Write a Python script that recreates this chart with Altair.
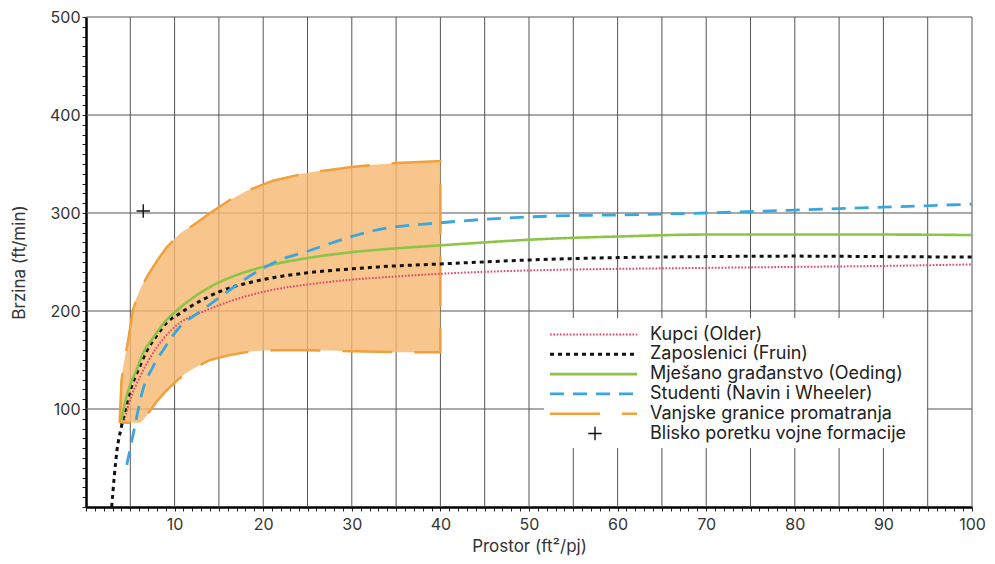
import altair as alt
import pandas as pd

# ---------------- data ----------------
# Kupci (Older)
older_x = [4.3, 5.0, 6.1, 8.0, 10.6, 12.9, 16.6, 21.9, 25, 30, 33, 40, 53, 60, 70, 80, 90, 100]
older_y = [88, 110, 133, 163, 188, 198, 211, 223, 227, 232, 234, 238, 242, 243, 244, 245, 246, 247.5]

# Zaposlenici (Fruin)
fruin_x = [2.9, 3.5, 4.0, 5.0, 6.0, 6.9, 8.0, 9.1, 10.5, 11.7, 13.5, 15.4, 18, 21.1, 25, 30, 33, 40,
           53, 60, 70, 80, 90, 100]
fruin_y = [0, 58, 82, 119, 142, 160, 175, 188, 197, 204, 213, 221, 228, 234, 239, 243, 245, 248,
           253, 254.5, 255.5, 256, 255.5, 255]

# Mješano građanstvo (Oeding)
oeding_x = [4.0, 4.5, 5.0, 5.7, 6.5, 7.6, 9.0, 10.3, 12, 14.3, 16.5, 18.8, 21.9, 25, 30, 33, 40,
            53, 60, 70, 80, 90, 100]
oeding_y = [88, 110, 125, 140, 158, 173, 190, 201, 213, 226, 235, 242, 249, 254, 260, 262.5, 267,
            274, 276, 278, 278, 278, 277.5]

# Studenti (Navin i Wheeler)
navin_x = [4.6, 5.0, 5.5, 6.4, 7.5, 8.7, 10.6, 12.5, 15.1, 18.9, 21.9, 25, 30, 33, 40, 53, 60, 70,
           80, 90, 100]
navin_y = [43, 60, 82, 119, 142, 160, 184, 197, 214, 238, 252, 261, 276, 283, 290, 297, 298, 300,
           303, 306, 309]

# Vanjske granice promatranja (observed envelope)
env_x = [3.8, 4.0, 4.3, 4.7, 5.3, 6.0, 6.9, 8.0, 9.1, 10.5, 12.5, 14.0, 16.2, 18.0, 21.1, 25, 30, 35, 40]
env_upper = [86, 128, 148, 167, 201, 220, 235, 251, 265, 278, 290, 300, 313, 322, 333, 341, 347, 351, 353]
env_lower = [86, 86, 86, 86, 86, 86, 94, 108, 119, 131, 143, 150, 155, 158, 160, 160, 159, 158, 158]

# Blisko poretku vojne formacije
close_x = [6.46]
close_y = [302]

# grid positions and labels
grid_x = list(range(5, 101, 5))
grid_y = [100, 200, 300, 400, 500]

legend_labels = [
    "Kupci (Older)",
    "Zaposlenici (Fruin)",
    "Mješano građanstvo (Oeding)",
    "Studenti (Navin i Wheeler)",
    "Vanjske granice promatranja",
    "Blisko poretku vojne formacije",
]

# ---------------- styles ----------------
FONT = "Inter"
PINK = "#e04a6e"
BLACK = "#111111"
GREEN = "#8cc447"
BLUE = "#3ba6dc"
ORANGE_LINE = "#f0a03c"
ORANGE_FILL = "#f6b86f"
CROSS_PATH = "M-1,0H1M0,-1V1"

series_styles = [
    dict(color=PINK, dash=[1.7, 1.6], width=2.0),
    dict(color=BLACK, dash=[4, 4], width=3.0),
    dict(color=GREEN, dash=[1, 0], width=2.6),
    dict(color=BLUE, dash=[14, 9], width=2.8),
]
ENV_DASH = [50, 22]

xscale = alt.Scale(domain=[0, 100], nice=False, zero=False)
yscale = alt.Scale(domain=[0, 500], nice=False)

xaxis = alt.Axis(
    title="Prostor (ft²/pj)", values=list(range(0, 101)),
    labelExpr="datum.value % 10 === 0 && datum.value > 0 ? datum.label : ''",
    grid=False, tickSize=4, tickColor="#222", tickWidth=1,
    domainColor="#000", domainWidth=2.5,
    labelFont=FONT, labelFontSize=16, labelColor="#333", labelPadding=5,
    labelOverlap=False, labelFlush=False, labelBound=False,
    titleFont=FONT, titleFontSize=17, titleFontWeight="normal", titleColor="#333",
    titleY=44, titleBaseline="alphabetic",
)
yaxis = alt.Axis(
    title="Brzina (ft/min)", values=list(range(0, 501, 10)),
    labelExpr="datum.value % 100 === 0 && datum.value > 0 ? datum.label : ''",
    grid=False, tickSize=4, tickColor="#222", tickWidth=1,
    domainColor="#000", domainWidth=2.5,
    labelFont=FONT, labelFontSize=16, labelColor="#333", labelPadding=2,
    labelOverlap=False, labelFlush=False, labelBound=False,
    titleFont=FONT, titleFontSize=17, titleFontWeight="normal", titleColor="#333", titlePadding=21,
)


def X(field):
    return alt.X(field, type="quantitative", scale=xscale, axis=xaxis)


def Y(field):
    return alt.Y(field, type="quantitative", scale=yscale, axis=yaxis)


layers = []

# grid
layers.append(alt.Chart(pd.DataFrame({"gx": grid_x})).mark_rule(color="#555", strokeWidth=1)
              .encode(x=X("gx")))
layers.append(alt.Chart(pd.DataFrame({"gy": grid_y})).mark_rule(color="#555", strokeWidth=1)
              .encode(y=Y("gy")))

# envelope area + boundary
env_df = pd.DataFrame({"x": env_x, "hi": env_upper, "lo": env_lower})
layers.append(alt.Chart(env_df).mark_area(color=ORANGE_FILL, opacity=0.8, interpolate="monotone")
              .encode(x=X("x"), y=Y("hi"), y2="lo"))
bx = env_x + env_x[::-1]
by = env_upper + env_lower[::-1]
bound_df = pd.DataFrame({"x": bx, "y": by, "o": list(range(len(bx)))})
layers.append(alt.Chart(bound_df).mark_line(color=ORANGE_LINE, strokeWidth=2.5, strokeDash=ENV_DASH)
              .encode(x=X("x"), y=Y("y"), order="o:Q"))

# curves
for (xs, ys), st in zip([(older_x, older_y), (fruin_x, fruin_y), (oeding_x, oeding_y), (navin_x, navin_y)],
                        series_styles):
    df = pd.DataFrame({"x": xs, "y": ys})
    layers.append(alt.Chart(df).mark_line(color=st["color"], strokeWidth=st["width"],
                                          strokeDash=st["dash"], strokeCap="butt",
                                          interpolate="monotone")
                  .encode(x=X("x"), y=Y("y")))

# close-order military formation point
layers.append(alt.Chart(pd.DataFrame({"x": close_x, "y": close_y}))
              .mark_point(shape=CROSS_PATH, size=180, filled=False, color=BLACK, strokeWidth=1.4, opacity=1)
              .encode(x=X("x"), y=Y("y")))

# ---------------- legend (drawn inside the plot) ----------------
one = pd.DataFrame({"k": [0]})
layers.append(alt.Chart(one).mark_rect(color="white")
              .encode(x=alt.value(458), x2=alt.value(841), y=alt.value(301), y2=alt.value(431)))

LX0, LX1, TX = 464, 551, 564
ROW0, STEP = 317.5, 19.8
legend_kinds = series_styles + [dict(color=ORANGE_LINE, dash=ENV_DASH, width=2.5), None]
for i, (lab, st) in enumerate(zip(legend_labels, legend_kinds)):
    yy = ROW0 + i * STEP
    if st is not None:
        layers.append(alt.Chart(one).mark_rule(color=st["color"], strokeWidth=st["width"],
                                               strokeDash=st["dash"], strokeCap="butt")
                      .encode(x=alt.value(LX0), x2=alt.value(LX1), y=alt.value(yy)))
    else:
        layers.append(alt.Chart(one).mark_point(shape=CROSS_PATH, size=180, filled=False, color=BLACK,
                                                strokeWidth=1.4, opacity=1)
                      .encode(x=alt.value(509), y=alt.value(yy)))
    layers.append(alt.Chart(one).mark_text(align="left", baseline="middle", font=FONT, fontSize=18,
                                           color="#222")
                  .encode(x=alt.value(TX), y=alt.value(yy), text=alt.value(lab)))

chart = alt.layer(*layers).properties(
    width=886, height=490,
    autosize=alt.AutoSizeParams(type="none"),
    padding={"left": 78, "top": 9, "right": 15, "bottom": 49},
    background="white",
).configure_view(stroke="transparent")

chart.save("out.html", embed_options={"renderer": "svg", "actions": False})
